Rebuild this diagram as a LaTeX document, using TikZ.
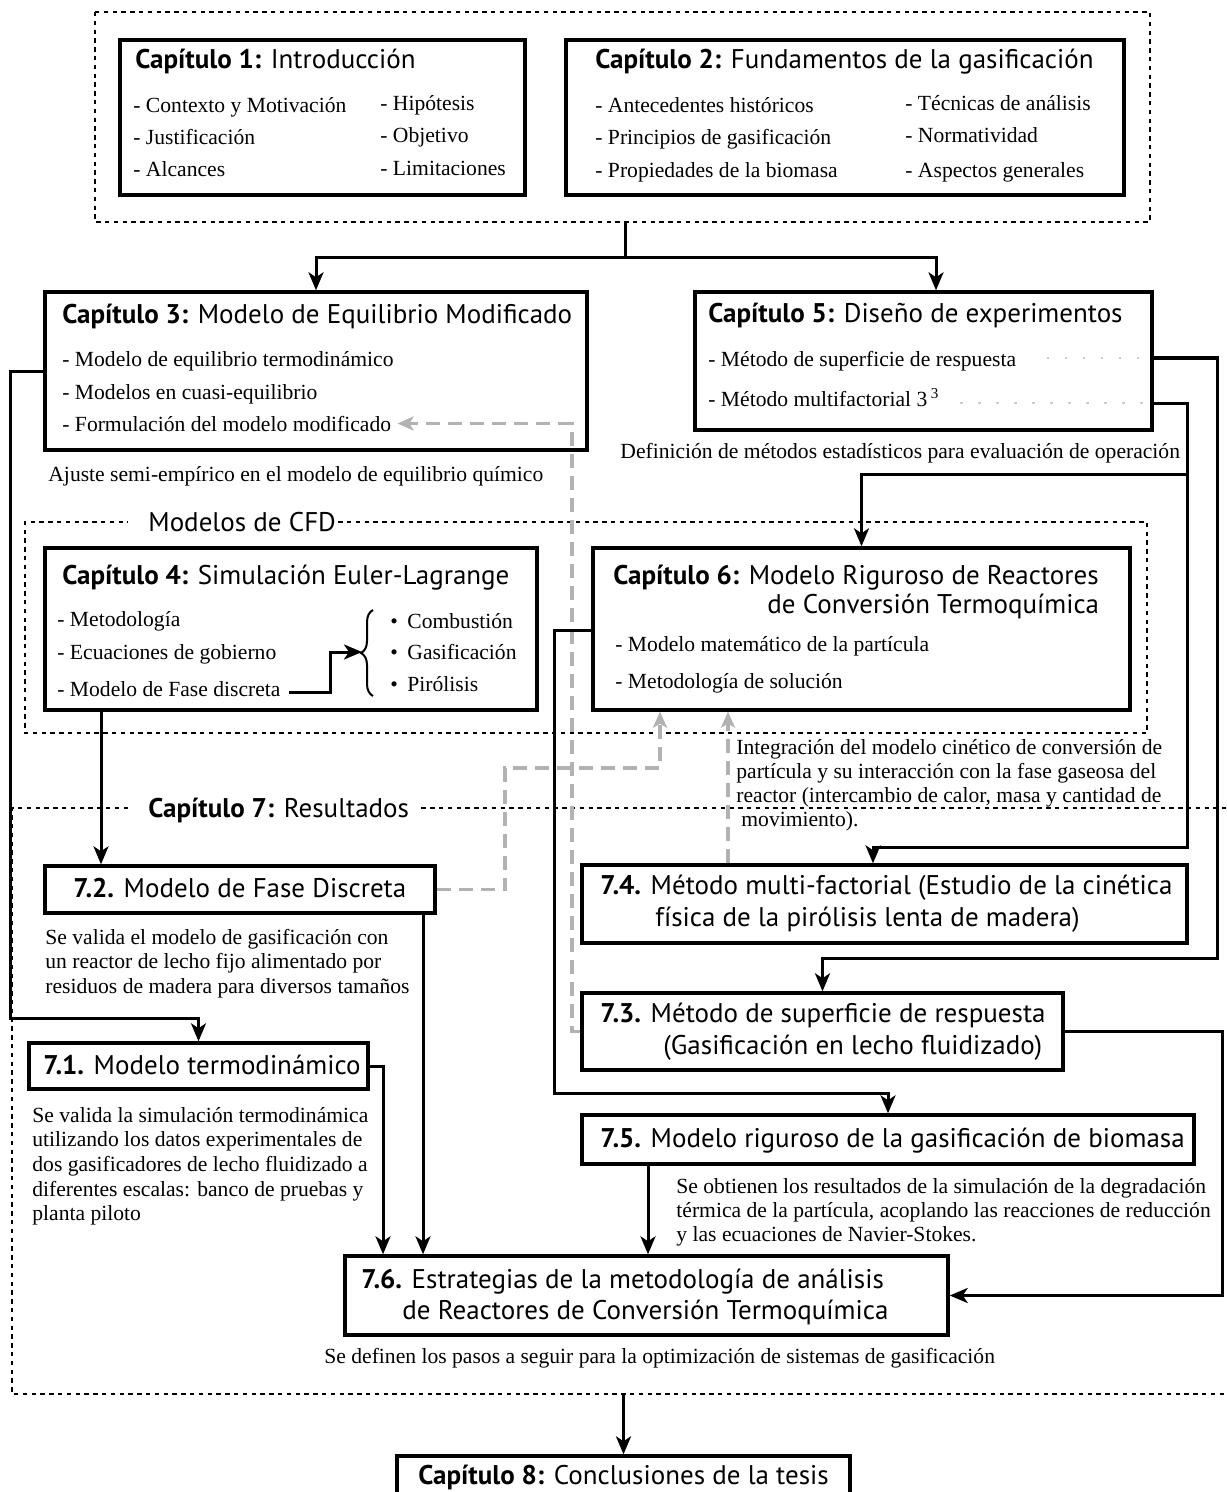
\documentclass[tikz,border=0pt]{standalone}
\usepackage{fontspec}
\setmainfont{Liberation Serif}
\newfontfamily\tsans{PT Sans}
\usetikzlibrary{arrows.meta,decorations.pathreplacing,calc}
\tikzset{
  pbox/.style={draw,line width=1.7pt,inner sep=0pt,rectangle},
  stext/.style={inner sep=0pt,font=\tsans\fontsize{13.5}{16}\selectfont},
  rtext/.style={inner sep=0pt,font=\fontsize{10.8}{13}\selectfont},
  arr/.style={line width=1.5pt,-{Stealth[length=9pt,width=7.5pt,inset=2.5pt]}},
  conn/.style={line width=1.5pt},
  garr/.style={draw=gray!60,line width=1.6pt,dash pattern=on 7pt off 4pt,-{Stealth[length=8pt,width=7pt,inset=2pt]}},
  grpline/.style={line width=1pt,dash pattern=on 2.2pt off 2.2pt},
  gdot/.style={draw=gray!40,line width=1.4pt,dash pattern=on 1.4pt off 7.6pt}
}
\newcommand\mybox[5]{\node[pbox,minimum width={(#4-#2)*0.5pt},minimum height={(#5-#3)*0.5pt}] (#1) at ({(#2+#4)/2},{(#3+#5)/2}) {};}
\newcommand\ssx[4]{\node[stext,anchor=base west] (#1) at (#2,#3) {#4};}
\newcommand\rmx[4]{\node[rtext,anchor=base west] (#1) at (#2,#3) {#4};}
\begin{document}
\begin{tikzpicture}[x=0.5pt,y=-0.5pt]
\useasboundingbox (0,0) rectangle (1226,1492);
\clip (0,0) rectangle (1226,1492);
\fill[white] (0,0) rectangle (1226,1492);
% helper coordinates
\coordinate (x101) at (101,0);
\coordinate (x383) at (383,0);
\coordinate (x423) at (423,0);
\coordinate (x572) at (572,0);
\coordinate (x648) at (648,0);
\coordinate (x660) at (660,0);
\coordinate (x728) at (728,0);
\coordinate (x873) at (873,0);
\coordinate (x936) at (936,0);
\coordinate (x1222) at (1222,0);
\coordinate (y358) at (0,358);
\coordinate (y403) at (0,403);
\coordinate (y630) at (0,630);
% ---------- top group ----------
\coordinate (gtop) at (625,222);
\draw[grpline] (95,12) rectangle (1150,222);
\mybox{c1}{120}{40}{525}{195}
\mybox{c2}{566}{40}{1124}{195}
\ssx{t1}{135}{69}{\textbf{Capítulo 1:} Introducción}
\rmx{t1a}{133}{113}{- Contexto y Motivación}
\rmx{t1b}{133}{145}{- Justificación}
\rmx{t1c}{133}{177}{- Alcances}
\rmx{t1d}{380}{111}{- Hipótesis}
\rmx{t1e}{380}{143}{- Objetivo}
\rmx{t1f}{380}{176}{- Limitaciones}
\ssx{t2}{595}{69}{\textbf{Capítulo 2:} Fundamentos de la gasificación}
\rmx{t2a}{595}{113}{- Antecedentes históricos}
\rmx{t2b}{595}{145}{- Principios de gasificación}
\rmx{t2c}{595}{178}{- Propiedades de la biomasa}
\rmx{t2d}{905}{111}{- Técnicas de análisis}
\rmx{t2e}{905}{143}{- Normatividad}
\rmx{t2f}{905}{178}{- Aspectos generales}
% ---------- chapter 3 ----------
\mybox{c3}{45}{292}{587}{450}
\ssx{t3}{62}{324}{\textbf{Capítulo 3:} Modelo de Equilibrio Modificado}
\rmx{t3a}{62}{366}{- Modelo de equilibrio termodinámico}
\rmx{t3b}{62}{399}{- Modelos en cuasi-equilibrio}
\rmx{t3c}{62}{431}{- Formulación del modelo modificado}
\rmx{n3}{48}{481}{Ajuste semi-empírico en el modelo de equilibrio químico}
% ---------- chapter 5 ----------
\mybox{c5}{695}{292}{1152}{430}
\ssx{t5}{708}{322}{\textbf{Capítulo 5:} Diseño de experimentos}
\rmx{t5a}{708}{366}{- Método de superficie de respuesta}
\rmx{t5b}{708}{406}{- Método multifactorial 3\,\textsuperscript{3}}
\rmx{n5}{620}{458}{Definición de métodos estadísticos para evaluación de operación}
\draw[gdot] ([xshift=15pt]t5a.east |- y358) -- (c5.east |- y358);
\draw[gdot] ([xshift=10pt]t5b.east |- y403) -- (c5.east |- y403);
% ---------- CFD group ----------
\node[stext,anchor=base west] (cfdlab) at (148,531) {Modelos de CFD};
\draw[grpline] ([xshift=1pt]cfdlab.east |- 0,522) -- (1147,522) -- (1147,733) -- (25,733) -- (25,522) -- (128,522);
\mybox{c4}{45}{548}{537}{710}
\ssx{t4}{62}{584}{\textbf{Capítulo 4:} Simulación Euler-Lagrange}
\rmx{t4a}{57}{626}{- Metodología}
\rmx{t4b}{57}{659}{- Ecuaciones de gobierno}
\rmx{t4c}{57}{696}{- Modelo de Fase discreta}
\coordinate (brb) at (373,696);
\coordinate (brt) at (373,610);
\draw[line width=1pt,decorate,decoration={brace,amplitude=6pt}] (brb) -- (brt);
\coordinate (b4a) at (330,692);
\coordinate (b4b) at (362,652);
\draw[arr] ([xshift=4pt]t4c.east |- b4a) -- (b4a) |- (b4b);
\rmx{t4d}{390}{628}{•}
\rmx{t4e}{390}{659}{•}
\rmx{t4f}{390}{691}{•}
\rmx{t4g}{407}{628}{Combustión}
\rmx{t4h}{407}{659}{Gasificación}
\rmx{t4i}{407}{691}{Pirólisis}
\mybox{c6}{593}{548}{1130}{710}
\ssx{t6}{613}{584}{\textbf{Capítulo 6:} Modelo Riguroso de Reactores}
\ssx{t6l}{767}{613}{de Conversión Termoquímica}
\rmx{t6a}{615}{651}{- Modelo matemático de la partícula}
\rmx{t6b}{615}{688}{- Metodología de solución}
\rmx{n6a}{736}{754}{Integración del modelo cinético de conversión de}
\rmx{n6b}{736}{778}{partícula y su interacción con la fase gaseosa del}
\rmx{n6c}{736}{802}{reactor (intercambio de calor, masa y cantidad de}
\rmx{n6d}{741}{826}{movimiento).}
% ---------- chapter 7 group ----------
\node[stext,anchor=base west] (c7lab) at (148,817) {\textbf{Capítulo 7:} Resultados};
\draw[grpline] (128,808) -- (12,808) -- (12,1394) -- (1240,1394);
\draw[grpline] ([xshift=6pt]c7lab.east |- 0,808) -- (1240,808);
\coordinate (g7b) at (623.5,1394);
\mybox{r72}{45}{866}{435}{913}
\ssx{t72}{73}{897}{\textbf{7.2.} Modelo de Fase Discreta}
\rmx{n72a}{45}{944}{Se valida el modelo de gasificación con}
\rmx{n72b}{45}{968}{un reactor de lecho fijo alimentado por}
\rmx{n72c}{45}{993}{residuos de madera para diversos tamaños}
\mybox{r71}{29}{1043}{368}{1089}
\ssx{t71}{43}{1074}{\textbf{7.1.} Modelo termodinámico}
\rmx{n71a}{32}{1122}{Se valida la simulación termodinámica}
\rmx{n71b}{32}{1146}{utilizando los datos experimentales de}
\rmx{n71c}{32}{1171}{dos gasificadores de lecho fluidizado a}
\rmx{n71d}{32}{1196}{diferentes escalas: banco de pruebas y}
\rmx{n71e}{32}{1220}{planta piloto}
\mybox{r74}{582}{865}{1187}{943}
\ssx{t74}{600}{894}{\textbf{7.4.} Método multi-factorial (Estudio de la cinética}
\ssx{t74l}{655}{926}{física de la pirólisis lenta de madera)}
\mybox{r73}{582}{993}{1063}{1070}
\ssx{t73}{600}{1022}{\textbf{7.3.} Método de superficie de respuesta}
\ssx{t73l}{663}{1054}{(Gasificación en lecho fluidizado)}
\mybox{r75}{582}{1115}{1194}{1164}
\ssx{t75}{600}{1147}{\textbf{7.5.} Modelo riguroso de la gasificación de biomasa}
\rmx{n75a}{676}{1193}{Se obtienen los resultados de la simulación de la degradación}
\rmx{n75b}{676}{1217}{térmica de la partícula, acoplando las reacciones de reducción}
\rmx{n75c}{676}{1241}{y las ecuaciones de Navier-Stokes.}
\mybox{r76}{345}{1256}{948}{1335}
\ssx{t76}{361}{1288}{\textbf{7.6.} Estrategias de la metodología de análisis}
\ssx{t76l}{402}{1319}{de Reactores de Conversión Termoquímica}
\rmx{n76}{324}{1363}{Se definen los pasos a seguir para la optimización de sistemas de gasificación}
% ---------- chapter 8 ----------
\mybox{c8}{397}{1456}{850}{1530}
\ssx{t8}{418}{1484}{\textbf{Capítulo 8:} Conclusiones de la tesis}
% ---------- grey dashed feedback ----------
\draw[garr] (r73.west) -- (r73.west -| x572) |- ([xshift=3pt]t3c.east);
\coordinate (k8) at (505,768);
\draw[garr] (r72.east) -| (k8) -| (c6.south -| x660);
\draw[garr] (r74.north -| x728) -- (c6.south -| x728);
% ---------- solid connectors ----------
\coordinate (j1) at (625,258);
\draw[conn] (gtop) -- (j1);
\draw[arr] (j1) -| (c3.north);
\draw[arr] (j1) -| (c5.north -| x936);
\coordinate (k1) at (10,1018);
\draw[arr] (c3.west) -| (k1) -| (r71.north);
\coordinate (k2) at (1217,958);
\draw[arr] (c5.east |- y358) -| (k2) -| (r73.north);
\coordinate (k3) at (1187,847);
\draw[arr] (c5.east |- y403) -| (k3) -| (r74.north -| x873);
\coordinate (k4) at (1187,474);
\draw[arr] (k4) -| (c6.north);
\coordinate (k5) at (554,1093);
\draw[arr] (c6.west |- y630) -| (k5) -| (r75.north);
\draw[arr] (c4.south -| x101) -- (r72.north -| x101);
\draw[arr] (r71.east) -| (r76.north -| x383);
\draw[arr] (r72.south -| x423) -- (r76.north -| x423);
\draw[arr] (r75.south -| x648) -- (r76.north -| x648);
\draw[arr] (r73.east) -| (r76.east -| x1222) -- (r76.east);
\draw[arr] (c8.north |- g7b) -- (c8.north);
\end{tikzpicture}
\end{document}
